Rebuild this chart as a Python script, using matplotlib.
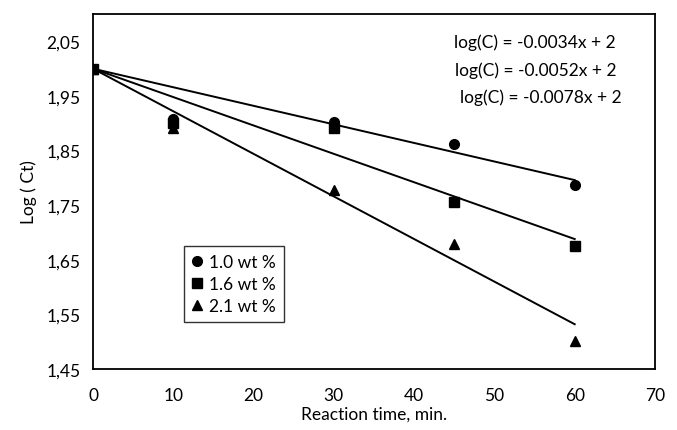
import numpy as np
import matplotlib
matplotlib.use("Agg")
import matplotlib.pyplot as plt
from matplotlib.ticker import FuncFormatter

plt.rcParams['font.family'] = ['Lato', 'DejaVu Sans']

# reaction time (min)
tiempo = [0, 10, 30, 45, 60]

# log(Ct) for each loading
logc_10 = [2.0, 1.908, 1.903, 1.862, 1.787]
logc_16 = [2.0, 1.900, 1.891, 1.756, 1.676]
logc_21 = [2.0, 1.891, 1.777, 1.679, 1.502]

etiquetas = ['1.0 wt %', '1.6 wt %', '2.1 wt %']
pendientes = [-0.0034, -0.0052, -0.0078]
intercepto = 2
ecuaciones = ['log(C) = -0.0034x + 2', 'log(C) = -0.0052x + 2', 'log(C) = -0.0078x + 2']

fig = plt.figure(figsize=(6.77, 4.31), dpi=100)
ax = fig.add_axes([0.1374, 0.1415, 0.8301, 0.8235])

marcadores = ['o', 's', '^']
series = [logc_10, logc_16, logc_21]
xs = np.array([0, 60])

for serie, m, lab, p in zip(series, marcadores, etiquetas, pendientes):
    ax.plot(tiempo, serie, linestyle='none', marker=m, color='black',
            markersize=7, label=lab)
    ax.plot(xs, intercepto + p * xs, color='black', linewidth=1.4)

ax.set_xlim(0, 70)
ax.set_ylim(1.45, 2.10)
ax.set_xticks(np.arange(0, 71, 10))
ax.set_yticks([1.45, 1.55, 1.65, 1.75, 1.85, 1.95, 2.05])
ax.yaxis.set_major_formatter(FuncFormatter(lambda v, pos: f'{v:.2f}'.replace('.', ',')))
ax.tick_params(length=0, labelsize=12.5)
ax.tick_params(axis='x', pad=13)
ax.tick_params(axis='y', pad=9)

for s in ax.spines.values():
    s.set_linewidth(1.3)

ax.set_xlabel('Reaction time, min.', fontsize=12.5, labelpad=2)
ax.set_ylabel('Log ( Ct)', fontsize=12.5, labelpad=7)

pos_y = [0.921, 0.842, 0.766]
pos_x = [0.786, 0.787, 0.796]
for txt, px, py in zip(ecuaciones, pos_x, pos_y):
    ax.text(px, py, txt, transform=ax.transAxes, ha='center', va='center', fontsize=12.5)

leg = ax.legend(loc='lower left', bbox_to_anchor=(0.162, 0.132), fontsize=12.5,
                frameon=True, fancybox=False, handlelength=0.6, handletextpad=0.4,
                borderpad=0.45, labelspacing=0.35, borderaxespad=0)
leg.get_frame().set_edgecolor('black')
leg.get_frame().set_linewidth(1.0)

fig.savefig('out.png', dpi=100)
